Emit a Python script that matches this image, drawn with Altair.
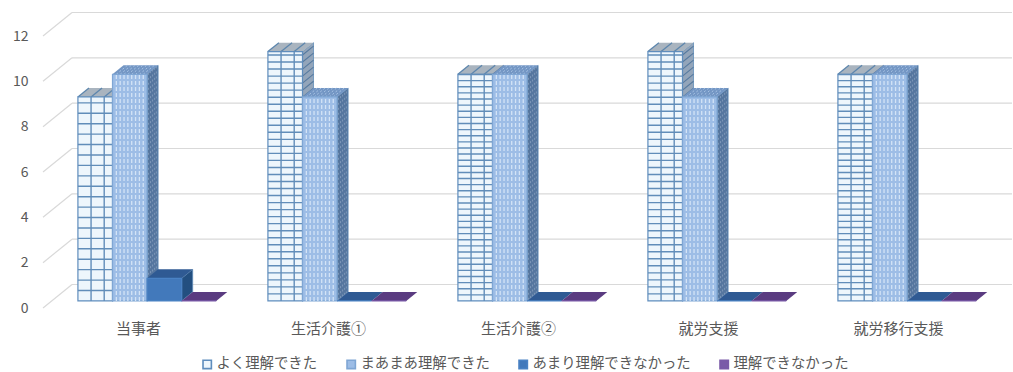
import json
import altair as alt
import pandas as pd

# Survey results: number of respondents per group and understanding level
categories = ["当事者", "生活介護①", "生活介護②", "就労支援", "就労移行支援"]
series_names = ["よく理解できた", "まあまあ理解できた", "あまり理解できなかった", "理解できなかった"]
series_values = [
    [9, 11, 10, 11, 10],
    [10, 9, 10, 9, 10],
    [1, 0, 0, 0, 0],
    [0, 0, 0, 0, 0],
]

# Face colours of each series
front_fill = ["#eef6fc", "#9dbde6", "#4279bb", "#7a5aa8"]
front_stroke = ["#5f8dbd", "#7fa6d4", "#4a82c4", "#7a5aa8"]
top_fill = ["#a9b4bf", "#7396c4", "#2f5a93", "#5a3b80"]
side_fill = ["#93a5ba", "#55769f", "#234f80", "#46306a"]
line_blue = "#618db9"

# Row height of the brick hatch, in axis units, per category
row_step = [0.46, 0.31, 0.27, 0.31, 0.27]

GROUP_START = 0.138
BAR_W = 0.182
DEPTH_X = 29 / 190
DEPTH_Y = 23.5 / 22.67
NEAR, FAR = 0.30, 0.68
FONT = "Noto Sans CJK JP"
TEXT = "#595959"

ticks = list(range(0, 13, 2))
xs = alt.Scale(domain=[0, 5], nice=False, zero=False)
ys = alt.Scale(domain=[0, 12], nice=False, zero=False)
x_axis = alt.Axis(
    values=[i + 0.5 for i in range(5)],
    labelExpr=f"{json.dumps(categories, ensure_ascii=False)}[floor(datum.value)]",
    domain=False, ticks=False, grid=False, labelFont=FONT, labelFontSize=15,
    labelColor=TEXT, labelPadding=13, labelAngle=0, labelFlush=False, title=None,
)
y_axis = alt.Axis(
    values=ticks, domain=False, ticks=False, grid=False, labelFont=FONT,
    labelFontSize=14, labelColor=TEXT, labelPadding=15, title=None,
)


def X(field="x"):
    return alt.X(f"{field}:Q", scale=xs, axis=x_axis)


def Y(field="y"):
    return alt.Y(f"{field}:Q", scale=ys, axis=y_axis)


def px(cat, ser, edge, depth):
    return cat + GROUP_START + (ser + edge) * BAR_W + depth * DEPTH_X


def py(val, depth):
    return val + depth * DEPTH_Y


def rules(rows, color, width=1.0, dash=None):
    kw = {"color": color, "strokeWidth": width}
    if dash:
        kw["strokeDash"] = dash
    return alt.Chart(pd.DataFrame(rows)).mark_rule(**kw).encode(
        x=X(), y=Y(), x2="x2:Q", y2="y2:Q"
    )


def seg(x, y, x2, y2):
    return {"x": x, "y": y, "x2": x2, "y2": y2}


# Back wall gridlines with their slanted side-wall returns
back_x = DEPTH_X
grid = rules([seg(back_x, py(v, 1), 5.1, py(v, 1)) for v in ticks], "#d9d9d9", 1.2)
slants = rules([seg(0, v, back_x, py(v, 1)) for v in ticks], "#d9d9d9", 1.2)

layers = [grid, slants]

# Bars are painted left to right so nearer faces cover earlier ones
for s, name in enumerate(series_names):
    values = series_values[s]
    cats = range(len(categories))

    # Right-hand face
    side_rows = []
    for c in cats:
        if values[c] > 0:
            for d in (NEAR, FAR):
                side_rows.append({"bar": c, "x": px(c, s, 1, d), "y": py(0, d), "y2": py(values[c], d)})
    if side_rows:
        layers.append(
            alt.Chart(pd.DataFrame(side_rows)).mark_area(
                color=side_fill[s], stroke=line_blue, strokeWidth=0.8
            ).encode(x=X(), y=Y(), y2="y2:Q", detail="bar:N")
        )

    # Upper face
    top_rows = []
    for c in cats:
        for d in (NEAR, FAR):
            top_rows.append({"bar": c, "x": px(c, s, 0, d), "x2": px(c, s, 1, d), "y": py(values[c], d)})
    layers.append(
        alt.Chart(pd.DataFrame(top_rows)).mark_area(
            orient="horizontal", color=top_fill[s]
        ).encode(x=X(), x2="x2:Q", y=Y(), detail="bar:N")
    )

    # Hatch on the upper and side faces
    if s == 0:
        side_hatch, top_hatch = [], []
        for c in cats:
            v = 0.0
            while v < values[c]:
                side_hatch.append(seg(px(c, s, 1, NEAR), py(v, NEAR), px(c, s, 1, FAR), py(v, FAR)))
                v += row_step[c]
            for e in (0, 0.38, 0.76):
                top_hatch.append(seg(px(c, s, e, NEAR), py(values[c], NEAR), px(c, s, e, FAR), py(values[c], FAR)))
        layers.append(rules(side_hatch, "#55799f", 1.1))
        layers.append(rules(top_hatch, "#5d86ad", 1.3))
    elif s == 1:
        side_hatch, top_hatch = [], []
        for c in cats:
            for d in (0.35, 0.42, 0.49, 0.56, 0.62):
                side_hatch.append(seg(px(c, s, 1, d), py(0, d), px(c, s, 1, d), py(values[c], d)))
            for i in range(1, 9):
                e = i / 9
                top_hatch.append(seg(px(c, s, e, NEAR), py(values[c], NEAR), px(c, s, e, FAR), py(values[c], FAR)))
        layers.append(rules(side_hatch, "#7e98b8", 1.0, [2, 3]))
        layers.append(rules(top_hatch, "#a8c3e4", 1.0, [2, 2]))

    # Front face, which also feeds the legend
    front = pd.DataFrame([
        {"series": name, "x": px(c, s, 0, NEAR), "x2": px(c, s, 1, NEAR), "y": py(0, NEAR), "y2": py(values[c], NEAR)}
        for c in cats
    ])
    legend = alt.Legend(
        title=None, orient="none", legendX=157, legendY=321, direction="horizontal",
        columns=4, columnPadding=25, symbolType="square", symbolSize=70,
        symbolStrokeWidth=1.6, labelFont=FONT, labelFontSize=14.4, labelColor=TEXT,
        labelOffset=2, gridAlign="each",
    )
    layers.append(
        alt.Chart(front).mark_rect(strokeWidth=1.2).encode(
            x=X(), x2="x2:Q", y=Y(), y2="y2:Q",
            fill=alt.Fill("series:N", scale=alt.Scale(domain=series_names, range=front_fill),
                          sort=series_names, legend=legend),
            stroke=alt.Stroke("series:N", scale=alt.Scale(domain=series_names, range=front_stroke),
                              sort=series_names, legend=legend),
        )
    )

    # Hatch on the front face
    if s == 0:
        brick = []
        for c in cats:
            v = row_step[c]
            while v < values[c]:
                brick.append(seg(px(c, s, 0, NEAR), py(v, NEAR), px(c, s, 1, NEAR), py(v, NEAR)))
                v += row_step[c]
            for e in (0.38, 0.76):
                brick.append(seg(px(c, s, e, NEAR), py(0, NEAR), px(c, s, e, NEAR), py(values[c], NEAR)))
        layers.append(rules(brick, line_blue, 1.4))
    elif s == 1:
        dots = []
        for c in cats:
            for i in range(1, 9):
                e = i / 9
                dots.append(seg(px(c, s, e, NEAR), py(0, NEAR), px(c, s, e, NEAR), py(values[c], NEAR)))
        layers.append(rules(dots, "#d3e3f6", 1.3, [4, 2]))

chart = alt.layer(*layers).properties(
    width=950,
    height=272,
    padding={"left": 43, "top": 36, "right": 20, "bottom": 64},
    autosize=alt.AutoSizeParams(type="none"),
    background="white",
).configure_view(stroke=None)

chart.save("out.html", embed_options={"renderer": "svg", "actions": False})
